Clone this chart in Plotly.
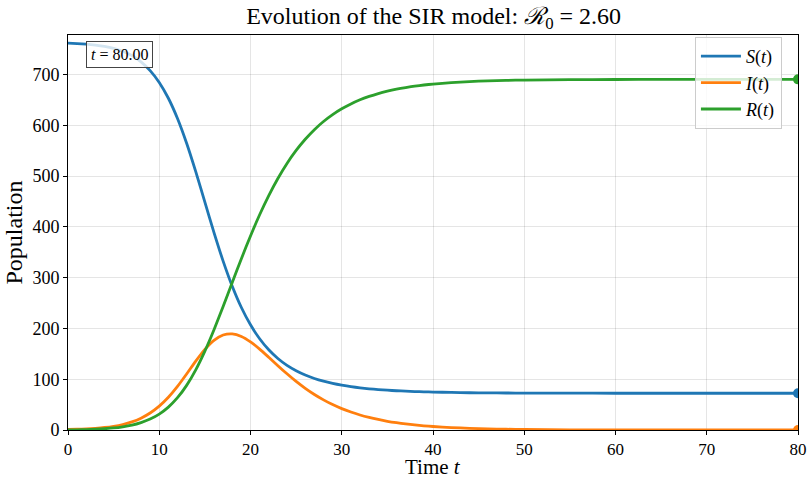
import plotly.graph_objects as go

# time samples (days)
t = [0, 1, 2, 3, 4, 5, 6, 7, 8, 9, 10, 11, 12, 13, 14, 15, 16, 17, 18, 19, 20,
     21, 22, 23, 24, 25, 26, 27, 28, 29, 30, 31, 32, 33, 34, 35, 36, 37, 38, 39, 40,
     42, 44, 46, 48, 50, 55, 60, 65, 70, 75, 80]

# Susceptible
S = [762.0, 761.2, 760.0, 758.2, 755.6, 751.7, 745.9, 737.5, 725.1, 707.9, 684.6,
     653.4, 613.5, 564.7, 508.8, 448.7, 388.8, 332.7, 283.2, 241.3, 207.2,
     179.7, 158.0, 140.9, 127.3, 116.8, 108.3, 101.5, 96.1, 91.8, 88.3,
     85.4, 83.1, 81.2, 79.6, 78.4, 77.3, 76.5, 75.7, 75.2, 74.7,
     74.0, 73.4, 73.2, 72.9, 72.7, 72.5, 72.4, 72.4, 72.4, 72.4, 72.4]

# Infected
I = [1.0, 1.5, 2.2, 3.3, 4.9, 7.3, 10.8, 15.9, 23.3, 33.5, 47.0,
     64.5, 85.9, 110.4, 135.7, 158.9, 176.7, 187.1, 189.3, 184.3, 173.6,
     159.4, 143.3, 126.7, 110.7, 95.6, 82.0, 69.9, 59.3, 50.0, 42.1,
     35.4, 29.6, 24.8, 20.7, 17.2, 14.4, 12.0, 10.0, 8.3, 6.9,
     4.8, 3.3, 2.2, 1.5, 1.1, 0.4, 0.2, 0.1, 0.0, 0.0, 0.0]

# Recovered
R = [0.0, 0.3, 0.8, 1.5, 2.5, 4.0, 6.3, 9.6, 14.6, 21.6, 31.4,
     45.1, 63.6, 87.9, 118.5, 155.4, 197.5, 243.2, 290.5, 337.4, 382.2,
     423.9, 461.7, 495.4, 525.0, 550.6, 572.7, 591.6, 607.6, 621.2, 632.6,
     642.2, 650.3, 657.0, 662.7, 667.4, 671.3, 674.5, 677.3, 679.5, 681.4,
     684.2, 686.3, 687.6, 688.6, 689.2, 690.1, 690.4, 690.5, 690.6, 690.6, 690.6]

series = [
    ("<i>S</i>(<i>t</i>)", S, "#1f77b4"),
    ("<i>I</i>(<i>t</i>)", I, "#ff7f0e"),
    ("<i>R</i>(<i>t</i>)", R, "#2ca02c"),
]

FONT = "Liberation Serif"

fig = go.Figure()
for name, vals, col in series:
    fig.add_trace(go.Scatter(
        x=t, y=vals, mode="lines", name=name,
        line=dict(color=col, width=2.8, shape="spline", smoothing=0.6),
    ))
for name, vals, col in series:
    fig.add_trace(go.Scatter(
        x=[t[-1]], y=[vals[-1]], mode="markers", showlegend=False,
        marker=dict(color=col, size=10), hoverinfo="skip",
    ))

fig.update_layout(
    width=809, height=479,
    margin=dict(l=68, r=11, t=35, b=49, autoexpand=False),
    paper_bgcolor="white", plot_bgcolor="white",
    font=dict(family=FONT, size=16, color="black"),
    title=dict(
        text="Evolution of the SIR model: <i>ℛ</i><sub>0</sub> = 2.60",
        x=0.536, xanchor="center", y=0.968, yanchor="middle",
        font=dict(family=FONT, size=24, color="black"),
    ),
    legend=dict(
        x=0.978, y=0.995, xanchor="right", yanchor="top",
        bgcolor="rgba(255,255,255,0.8)", bordercolor="#cccccc", borderwidth=1,
        font=dict(family=FONT, size=18), itemwidth=40,
    ),
    showlegend=True,
)

fig.update_xaxes(
    range=[0, 80], tickvals=[0, 10, 20, 30, 40, 50, 60, 70, 80],
    showgrid=True, gridcolor="rgba(0,0,0,0.1)", gridwidth=1,
    zeroline=False, showline=True, linecolor="black", linewidth=1, mirror=True,
    ticks="outside", ticklen=4, tickcolor="black", automargin=False,
    tickfont=dict(family=FONT, size=17),
)
fig.update_yaxes(
    range=[0, 778], tickvals=[0, 100, 200, 300, 400, 500, 600, 700],
    showgrid=True, gridcolor="rgba(0,0,0,0.1)", gridwidth=1,
    zeroline=True, zerolinecolor="#555555", zerolinewidth=1.5,
    showline=True, linecolor="black", linewidth=1, mirror=True,
    ticks="outside", ticklen=4, tickcolor="black", automargin=False,
    tickfont=dict(family=FONT, size=18),
)

# axis titles
fig.add_annotation(
    text="Time <i>t</i>", xref="paper", yref="paper", x=0.5, y=0,
    xanchor="center", yanchor="top", yshift=-23, showarrow=False,
    font=dict(family=FONT, size=21, color="black"),
)
fig.add_annotation(
    text="Population", xref="paper", yref="paper", x=0, y=0.5,
    xanchor="center", yanchor="middle", xshift=-55, textangle=-90, showarrow=False,
    font=dict(family=FONT, size=24, color="black"),
)

fig.add_annotation(
    text="<i>t</i> = 80.00", xref="paper", yref="paper",
    x=0.025, y=0.985, xanchor="left", yanchor="top", showarrow=False,
    font=dict(family=FONT, size=16, color="black"),
    bgcolor="rgba(255,255,255,0.8)", bordercolor="#444444", borderwidth=1, borderpad=4,
)

fig.write_html("out.html", config={"displayModeBar": False},
               post_script="document.body.style.margin='0px';")
